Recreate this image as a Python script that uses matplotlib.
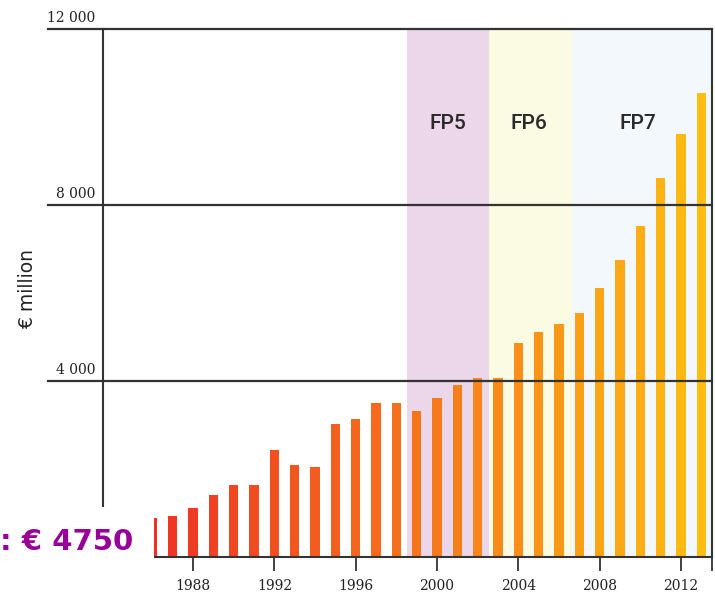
import matplotlib.pyplot as plt
from matplotlib.patches import Rectangle
import matplotlib.transforms as mtransforms


years = list(range(1986, 2014))
budget = [875, 935, 1105, 1400, 1625, 1625, 2440, 2095, 2035, 3030, 3140, 3495,
          3495, 3320, 3600, 3895, 4075, 4065, 4870, 5105, 5290, 5530, 6105, 6735,
          7510, 8615, 9600, 10525]

tick_years = [1988, 1992, 1996, 2000, 2004, 2008, 2012]
grid_values = [4000, 8000, 12000]
grid_labels = ['4 000', '8 000', '12 000']

programmes = ['FP5', 'FP6', 'FP7']
prog_start = [1998.5, 2002.55, 2006.65]
prog_end = [2002.55, 2006.65, 2013.5]
prog_colors = ['#ebd6ea', '#fbfae3', '#f3f8fc']
prog_label_x = [2000.55, 2004.5, 2009.9]


def bar_color(i, n):
    c0 = (238, 49, 36)
    c1 = (254, 190, 18)
    t = i / (n - 1)
    return tuple((a + (b - a) * t) / 255 for a, b in zip(c0, c1))


fig = plt.figure(figsize=(7.15, 5.92), dpi=100)
ax = fig.add_axes([103 / 715, 35 / 592, 608.5 / 715, 528.5 / 592])

ax.set_xlim(1983.57, 2013.5)
ax.set_ylim(0, 12000)

# framework programme shading
for s, e, c in zip(prog_start, prog_end, prog_colors):
    ax.axvspan(s, e, color=c, zorder=0, lw=0)
for name, x in zip(programmes, prog_label_x):
    ax.text(x, 0.82, name, transform=ax.get_xaxis_transform(), ha='center',
            va='center', fontsize=15, family='Roboto', fontweight='medium',
            color='#2a2a2a')

colors = [bar_color(i, len(years)) for i in range(len(years))]
ax.bar(years, budget, width=0.45, color=colors, zorder=2)

# horizontal lines sticking out to the left, labels on top
lab_trans = mtransforms.offset_copy(ax.get_yaxis_transform(), fig=fig, x=-8, y=4, units='dots')
for v, lab in zip(grid_values, grid_labels):
    ax.axhline(v, xmin=-0.0904, xmax=1, color='#333333', lw=1.6, clip_on=False, zorder=4)
    ax.text(0, v, lab, transform=lab_trans, ha='right', va='bottom',
            fontsize=10, family='DejaVu Serif', color='#222222')

for side in ['top']:
    ax.spines[side].set_visible(False)
for side in ['left', 'right', 'bottom']:
    ax.spines[side].set_color('#333333')
    ax.spines[side].set_linewidth(1.5)
    ax.spines[side].set_zorder(4)

ax.set_yticks([])
ax.set_xticks(tick_years + [2013.5], labels=[str(y) for y in tick_years] + [''])
ax.tick_params(axis='x', direction='out', length=10, width=1.3, color='#333333', pad=6)
for lab in ax.get_xticklabels():
    lab.set_family('DejaVu Serif')
    lab.set_fontsize(10)
    lab.set_color('#222222')

fig.text(28 / 715, (592 - 289) / 592, '€ million', rotation=90, ha='center', va='center',
         fontsize=13.5, color='#222222')

# white box covering bottom left with overlay text
fig.patches.append(Rectangle((0, 0), 154 / 715, (592 - 507) / 592, transform=fig.transFigure,
                             facecolor='white', edgecolor='none', zorder=5))
fig.text(133 / 715, (592 - 550) / 592, ': € 4750', ha='right', va='baseline',
         fontsize=21, fontweight='bold', color='#990099', zorder=6)

fig.savefig('out.png', dpi=100)
